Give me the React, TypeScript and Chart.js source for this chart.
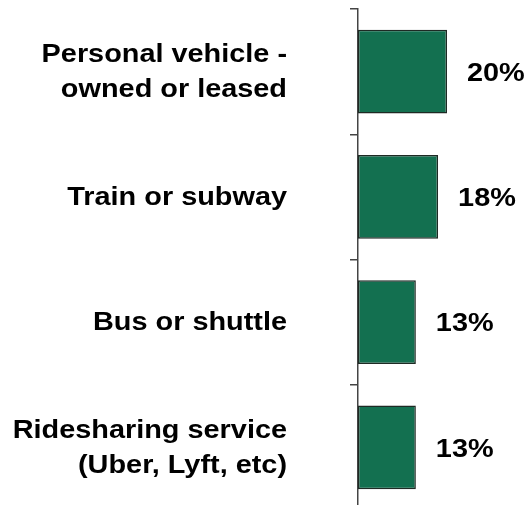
import React, { useEffect, useRef } from "react";
import { Chart, registerables } from "chart.js";

Chart.register(...registerables);

const categories: string[][] = [
  ["Personal vehicle -", "owned or leased"],
  ["Train or subway"],
  ["Bus or shuttle"],
  ["Ridesharing service", "(Uber, Lyft, etc)"],
];
const values = [20, 18, 13, 13];
const valueLabels = ["20%", "18%", "13%", "13%"];

const FONT = "'Liberation Sans', Arial, sans-serif";
const STRETCH = 1.11;

export default function App() {
  const ref = useRef<HTMLCanvasElement>(null);
  useEffect(() => {
    document.body.style.margin = "0";
    document.body.style.overflow = "hidden";
    const textPlugin = {
      id: "textLabels",
      afterDraw(chart: any) {
        const ctx = chart.ctx;
        const meta = chart.getDatasetMeta(0);
        const yScale = chart.scales.y;
        ctx.save();
        ctx.font = `bold 26px ${FONT}`;
        ctx.fillStyle = "#000";
        ctx.textBaseline = "middle";
        ctx.textAlign = "left";
        meta.data.forEach((bar: any, i: number) => {
          ctx.save();
          ctx.translate(bar.x + 20, bar.y + 2);
          ctx.scale(STRETCH, 1);
          ctx.fillText(valueLabels[i], 0, 0);
          ctx.restore();
        });
        ctx.textAlign = "right";
        const lh = 35;
        categories.forEach((lines, i) => {
          const cy = yScale.getPixelForTick(i);
          const start = -((lines.length - 1) * lh) / 2;
          lines.forEach((line, j) => {
            ctx.save();
            ctx.translate(287, cy + start + j * lh + 1);
            ctx.scale(STRETCH, 1);
            ctx.fillText(line, 0, 0);
            ctx.restore();
          });
        });
        ctx.restore();
      },
    };
    const chart = new Chart(ref.current!, {
      type: "bar",
      data: {
        labels: categories,
        datasets: [
          {
            data: values,
            backgroundColor: "#137050",
            borderColor: "#1e2a24",
            borderWidth: 1.5,
            borderSkipped: false,
            categoryPercentage: 1,
            barPercentage: 0.67,
          },
        ],
      },
      options: {
        indexAxis: "y",
        animation: false,
        responsive: false,
        maintainAspectRatio: false,
        layout: { padding: { top: 9, bottom: 2, left: 0, right: 39.5 } },
        plugins: { legend: { display: false }, tooltip: { enabled: false } },
        scales: {
          x: { display: false, min: 0, max: 30 },
          y: {
            type: "category",
            position: "left",
            afterFit(scale: any) {
              scale.width = 358;
              scale.paddingTop = 0;
              scale.paddingBottom = 0;
            },
            grid: {
              display: true,
              drawOnChartArea: false,
              drawTicks: true,
              tickLength: 8,
              offset: true,
              color: "#444",
              lineWidth: 1.5,
            },
            border: { display: true, color: "#444", width: 1.5 },
            ticks: { display: false },
          },
        },
      },
      plugins: [textPlugin],
    });
    return () => chart.destroy();
  }, []);
  return <canvas ref={ref} width={531} height={512} style={{ display: "block" }} />;
}
